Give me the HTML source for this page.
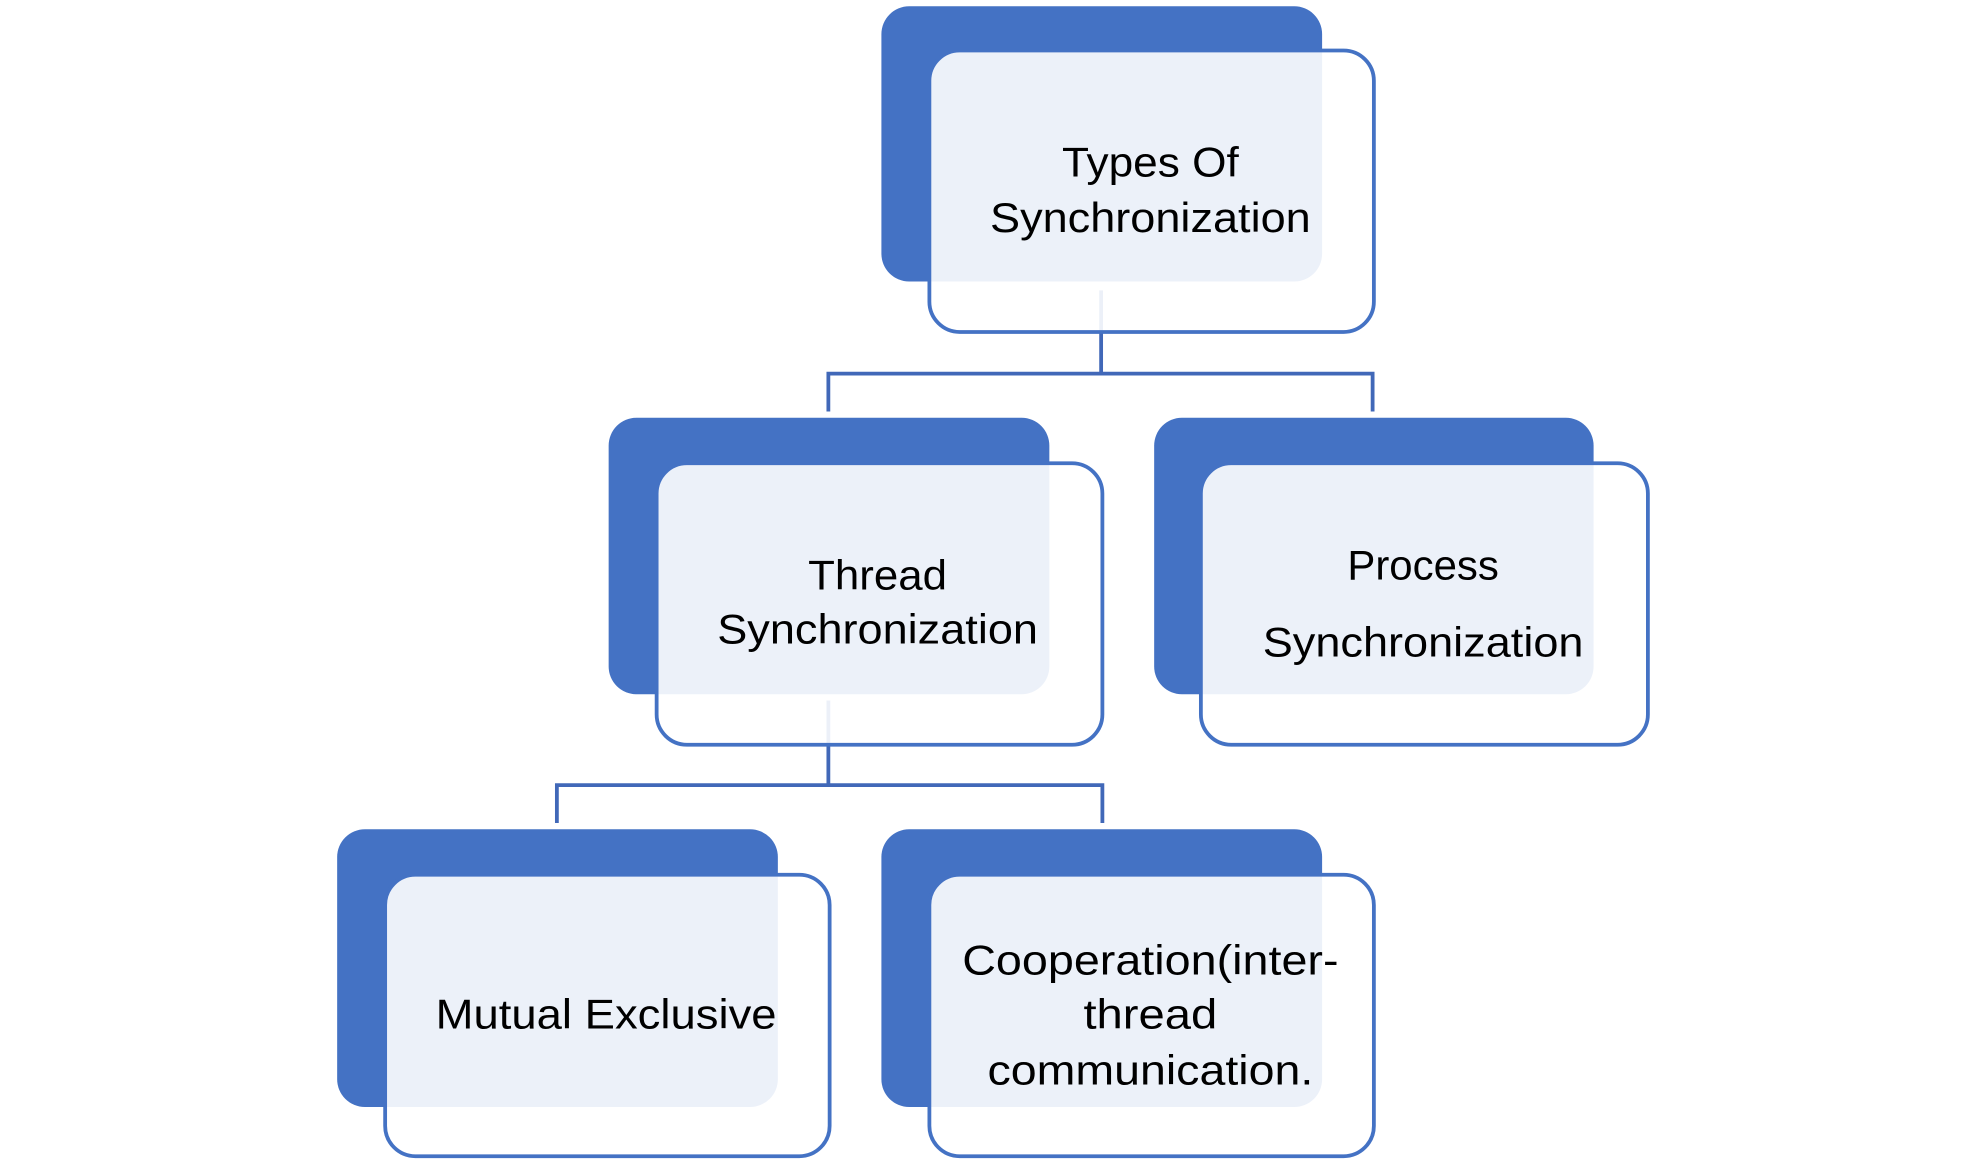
<!DOCTYPE html>
<html><head><meta charset="utf-8"><style>
html,body{margin:0;padding:0;background:#fff;}
svg{display:block;}
text{font-family:"Liberation Sans",sans-serif;font-size:33px;fill:#000;text-anchor:middle;}
</style></head><body>
<svg width="1980" height="1160" viewBox="0 0 1568 919" preserveAspectRatio="none" xmlns="http://www.w3.org/2000/svg">
<g stroke="#4168B8" stroke-width="3" fill="none">
<path d="M872 230 V296 M656 326 V296 H1087 V326"/>
<path d="M656 555 V622 M441 652 V622 H873 V652"/>
</g>
<g fill="#4472C4">
<rect x="698" y="5" width="349" height="218" rx="22"/>
<rect x="482" y="331" width="349" height="219" rx="22"/>
<rect x="914" y="331" width="348" height="219" rx="22"/>
<rect x="267" y="657" width="349" height="220" rx="22"/>
<rect x="698" y="657" width="349" height="220" rx="22"/>
</g>
<g fill="#fff" fill-opacity="0.9" stroke="#4472C4" stroke-width="3">
<rect x="736" y="40" width="352" height="223" rx="24"/>
<rect x="520" y="367" width="353" height="223" rx="24"/>
<rect x="951" y="367" width="354" height="223" rx="24"/>
<rect x="305" y="693" width="352" height="223" rx="24"/>
<rect x="736" y="693" width="352" height="223" rx="24"/>
</g>
<text x="911" y="140" textLength="140" lengthAdjust="spacingAndGlyphs">Types Of</text>
<text x="911" y="184" textLength="254" lengthAdjust="spacingAndGlyphs">Synchronization</text>
<text x="695" y="467" textLength="110" lengthAdjust="spacingAndGlyphs">Thread</text>
<text x="695" y="510" textLength="254" lengthAdjust="spacingAndGlyphs">Synchronization</text>
<text x="1127" y="459" textLength="120" lengthAdjust="spacingAndGlyphs">Process</text>
<text x="1127" y="520" textLength="254" lengthAdjust="spacingAndGlyphs">Synchronization</text>
<text x="480" y="815" textLength="270" lengthAdjust="spacingAndGlyphs">Mutual Exclusive</text>
<text x="911" y="772" textLength="298" lengthAdjust="spacingAndGlyphs">Cooperation(inter-</text>
<text x="911" y="815" textLength="106" lengthAdjust="spacingAndGlyphs">thread</text>
<text x="911" y="859" textLength="258" lengthAdjust="spacingAndGlyphs">communication.</text>
</svg>
</body></html>
